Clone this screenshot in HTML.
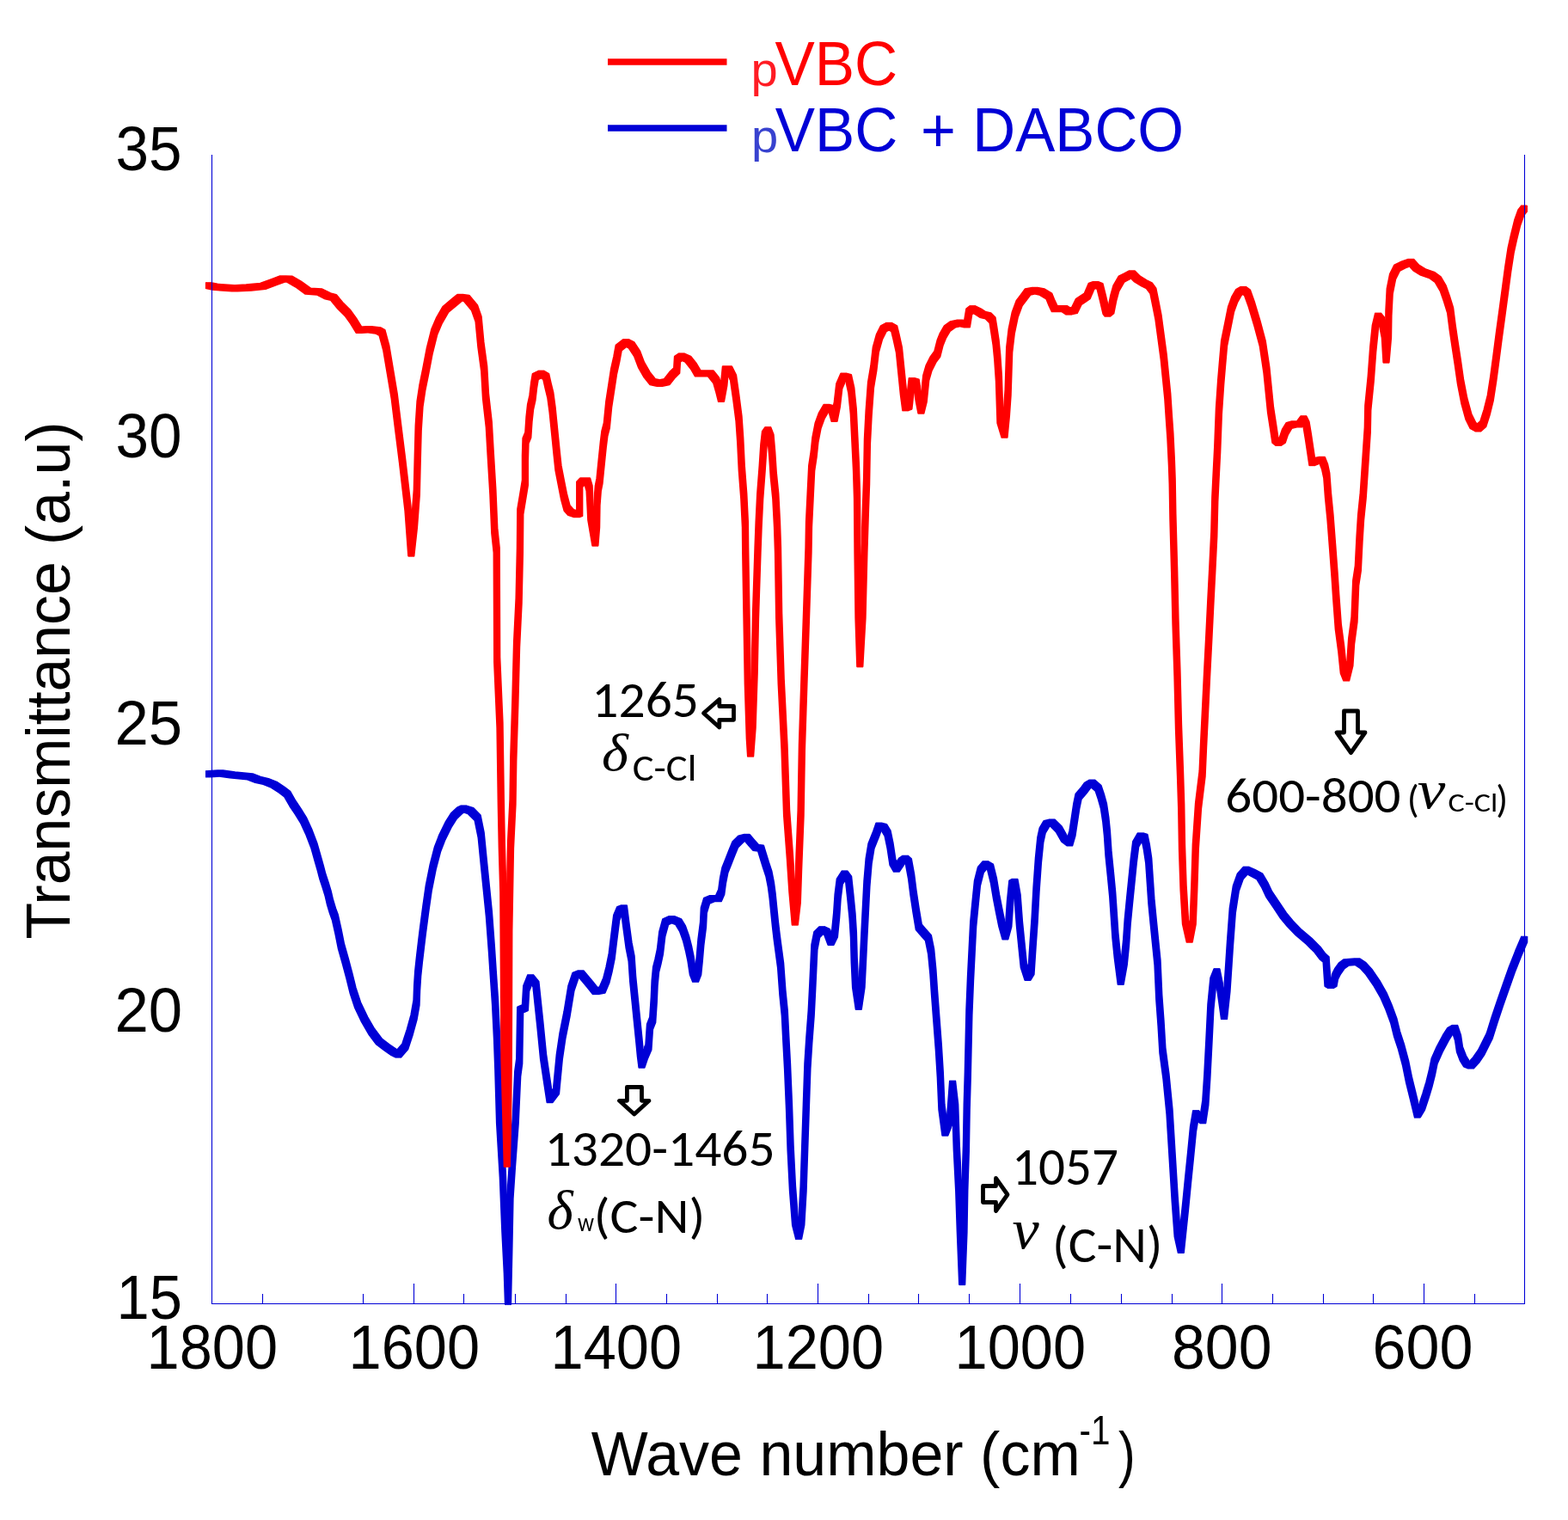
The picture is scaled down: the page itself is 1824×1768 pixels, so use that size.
<!DOCTYPE html>
<html><head><meta charset="utf-8"><title>FTIR spectra: pVBC and pVBC + DABCO</title><style>
html,body{margin:0;padding:0;background:#fff;width:1824px;height:1768px;overflow:hidden;}
svg{display:block;}
.ar{font-family:"Liberation Sans",Arial,sans-serif;}
.ca{font-family:"Carlito","Liberation Sans",sans-serif;}
.gr{font-family:"Liberation Serif","DejaVu Serif",serif;font-style:italic;}
</style></head><body>
<svg width="1824" height="1768" viewBox="0 0 1824 1768" xmlns="http://www.w3.org/2000/svg">
<defs>
<filter id="pen" filterUnits="userSpaceOnUse" x="0" y="0" width="1824" height="1768">
<feMorphology operator="dilate" radius="3"/>
</filter>
</defs>
<rect width="1824" height="1768" fill="#fff"/>
<g fill="none" stroke-linejoin="round" stroke-linecap="butt">
<path filter="url(#pen)" stroke="#0000D6" stroke-width="2.3" d="M242.0 900.4L256.3 899.3 270.5 901.4 290.9 903.4 300.0 906.9 309.3 909.0 318.7 912.7 328.0 918.9 334.2 923.6 340.4 934.5 346.7 943.8 352.9 953.8 359.1 967.2 365.3 983.3 370.0 999.9 372.8 1009.8 375.4 1019.7 378.7 1029.6 381.7 1039.5 384.0 1049.4 387.0 1059.3 389.8 1067.0 393.6 1083.9 397.0 1100.9 401.8 1117.9 406.3 1134.8 410.5 1151.8 416.0 1168.7 424.1 1185.7 432.2 1199.8 441.2 1211.7 449.7 1218.1 458.2 1224.0 463.3 1226.5 471.3 1217.2 476.8 1200.3 481.5 1183.3 484.5 1166.3 485.1 1149.4 486.2 1132.4 488.0 1115.4 490.0 1098.5 491.8 1083.6 495.3 1057.2 498.8 1032.7 503.7 1008.3 509.0 987.9 514.5 973.7 521.5 959.4 528.0 949.2 535.0 942.5 539.3 940.5 547.5 943.1 555.6 951.3 559.7 971.6 562.7 1002.2 565.8 1032.7 568.9 1063.3 571.9 1104.0 573.9 1134.5 576.0 1165.1 578.0 1205.8 579.3 1241.8 581.1 1304.0 584.8 1366.2 587.3 1428.4 589.8 1478.2 591.0 1514.0 592.3 1453.3 593.5 1391.1 596.0 1353.8 599.7 1304.0 602.2 1249.2 604.2 1234.3 605.2 1174.6 610.9 1172.1 612.2 1149.7 617.2 1137.2 623.4 1144.7 628.4 1192.0 632.1 1229.3 635.8 1254.2 639.6 1279.1 647.0 1269.2 650.8 1229.3 654.5 1204.4 659.5 1179.6 664.4 1149.7 669.4 1134.8 675.6 1132.3 681.9 1139.7 686.3 1145.1 692.7 1153.0 700.6 1151.5 705.3 1140.4 708.5 1127.7 711.7 1111.9 714.0 1092.9 717.2 1067.5 721.2 1058.0 725.9 1056.4 728.3 1075.4 731.5 1099.2 734.6 1115.0 736.2 1138.8 738.6 1162.5 741.0 1186.3 743.4 1210.1 744.9 1225.9 746.5 1238.6 749.7 1229.1 754.4 1218.0 756.0 1194.2 759.2 1186.3 760.8 1162.5 761.6 1143.5 763.1 1127.7 765.5 1118.2 767.9 1107.1 770.3 1086.5 774.2 1072.3 781.4 1069.1 789.3 1072.3 794.0 1080.2 798.0 1091.3 801.2 1103.9 803.5 1115.0 805.9 1130.9 809.1 1138.8 812.2 1130.9 813.8 1115.0 815.4 1096.0 818.0 1075.7 818.8 1058.8 822.2 1047.7 828.2 1045.2 835.8 1045.2 839.2 1037.6 840.9 1024.8 843.4 1012.1 846.8 1003.6 851.1 992.6 855.3 982.4 862.1 975.6 868.9 973.9 874.0 979.9 879.1 985.8 885.0 986.7 887.6 995.1 891.0 1006.2 894.4 1016.4 896.9 1029.1 898.6 1041.8 900.3 1058.8 902.0 1075.7 903.7 1090.0 904.9 1099.2 908.1 1122.9 910.4 1154.6 912.8 1178.4 914.4 1210.1 916.0 1240.0 918.0 1287.5 919.6 1335.0 922.0 1382.5 925.1 1422.1 929.1 1438.0 932.3 1422.1 934.6 1382.5 936.2 1335.0 937.8 1287.5 939.4 1240.0 941.3 1210.1 943.7 1178.4 945.3 1146.7 947.4 1101.8 950.3 1087.1 956.2 1081.2 962.1 1084.1 966.5 1095.9 970.9 1087.1 973.1 1065.0 974.6 1042.9 976.8 1025.3 982.6 1016.5 987.1 1022.4 989.3 1042.9 991.5 1065.0 992.9 1087.1 993.7 1116.5 995.1 1145.9 998.8 1170.9 1002.5 1145.9 1004.0 1116.5 1005.4 1087.1 1006.9 1057.6 1008.4 1028.2 1010.6 1001.8 1013.5 984.1 1019.4 969.4 1022.4 960.6 1028.2 962.1 1032.6 969.4 1035.6 984.1 1038.5 1003.2 1042.9 1010.6 1048.8 1001.8 1053.2 998.8 1056.9 1002.2 1060.1 1019.6 1062.5 1038.6 1065.6 1059.2 1068.8 1078.2 1072.8 1082.9 1079.9 1090.9 1083.1 1106.7 1085.4 1130.5 1087.0 1154.2 1089.4 1185.9 1091.8 1217.6 1093.8 1250.0 1095.4 1287.5 1099.4 1317.6 1104.9 1303.4 1108.1 1260.6 1111.2 1287.5 1112.8 1335.0 1115.2 1382.5 1116.8 1430.0 1119.2 1491.0 1121.5 1430.0 1122.3 1382.5 1123.9 1335.0 1124.7 1287.5 1125.8 1250.0 1127.4 1178.0 1129.0 1138.4 1130.6 1106.7 1132.2 1075.0 1134.5 1051.3 1136.9 1027.5 1140.9 1011.7 1146.4 1005.3 1152.0 1008.5 1155.9 1024.3 1159.1 1043.4 1162.2 1059.2 1165.4 1075.0 1169.4 1089.3 1173.3 1075.0 1174.9 1051.3 1177.3 1027.5 1180.5 1025.9 1183.6 1043.4 1186.0 1075.0 1188.4 1098.8 1190.8 1122.5 1195.5 1136.8 1199.5 1130.5 1201.5 1100.0 1203.6 1070.0 1205.5 1035.0 1207.9 1000.9 1210.3 977.1 1212.7 966.0 1217.4 958.1 1223.8 956.5 1231.7 964.4 1238.0 975.5 1244.3 980.3 1247.5 969.2 1249.9 953.4 1252.3 937.5 1254.6 926.4 1260.2 920.1 1264.9 913.8 1270.5 910.6 1277.6 916.9 1280.8 926.4 1283.9 937.5 1286.3 953.4 1287.9 969.2 1289.5 992.9 1291.9 1016.7 1294.2 1040.5 1295.8 1064.2 1297.4 1088.0 1299.8 1111.7 1303.7 1141.8 1307.7 1119.6 1310.1 1095.9 1311.7 1072.1 1314.0 1048.4 1316.4 1024.6 1318.8 1000.9 1321.2 981.9 1326.7 972.4 1331.5 973.9 1333.8 985.0 1336.2 1000.9 1337.8 1024.6 1339.4 1048.4 1341.7 1072.1 1344.1 1095.9 1346.5 1119.6 1348.3 1160.0 1350.5 1190.0 1352.4 1221.8 1356.5 1252.4 1360.5 1293.1 1363.6 1344.0 1366.7 1394.9 1369.7 1435.6 1373.8 1453.9 1378.9 1405.1 1381.9 1374.5 1385.0 1344.0 1388.0 1313.4 1391.1 1295.1 1399.2 1303.3 1402.3 1282.9 1404.3 1252.4 1406.4 1211.6 1408.4 1170.9 1411.4 1140.4 1415.5 1130.2 1419.6 1150.5 1424.0 1182.0 1427.5 1150.0 1429.5 1120.0 1430.9 1098.5 1433.8 1059.1 1437.8 1033.4 1442.7 1019.6 1449.6 1011.7 1456.5 1014.7 1465.4 1019.6 1471.3 1029.5 1476.2 1040.0 1485.1 1053.2 1493.0 1065.0 1500.9 1074.5 1510.8 1084.7 1522.6 1094.6 1532.5 1104.5 1538.4 1112.4 1542.6 1116.0 1543.5 1130.0 1544.5 1144.0 1548.0 1146.0 1551.5 1144.0 1553.0 1136.0 1556.0 1130.0 1560.7 1123.4 1566.0 1119.5 1578.8 1118.5 1585.6 1123.0 1592.4 1130.5 1601.6 1143.9 1609.5 1157.8 1615.5 1171.6 1621.3 1187.4 1625.2 1203.1 1629.8 1217.0 1635.1 1236.7 1639.1 1256.4 1644.0 1276.2 1648.9 1296.5 1654.0 1288.0 1658.3 1275.0 1662.4 1261.5 1665.8 1247.9 1668.6 1234.3 1674.6 1220.7 1681.8 1207.2 1687.0 1199.0 1692.3 1196.0 1696.0 1207.2 1698.0 1220.7 1702.0 1231.0 1706.0 1237.5 1711.0 1239.5 1717.0 1233.0 1723.1 1224.2 1732.7 1205.0 1738.7 1185.8 1745.2 1166.5 1751.9 1147.3 1758.7 1128.1 1766.3 1108.8 1773.5 1092.0"/>
<path filter="url(#pen)" stroke="#FF0000" stroke-width="2.3" d="M242.0 332.0L249.9 333.7 272.9 335.4 289.3 334.5 305.8 332.9 319.0 328.0 328.8 324.3 337.0 324.7 346.9 330.4 358.4 338.7 371.6 339.5 381.4 344.4 388.0 346.0 396.2 355.9 404.5 364.1 411.0 373.2 417.6 383.9 429.1 383.1 440.0 384.5 444.5 387.0 449.3 404.7 454.0 432.6 458.7 460.6 463.3 498.0 468.0 535.3 471.7 567.0 474.5 591.3 478.3 643.5 482.0 610.0 484.8 572.6 485.7 535.3 486.7 498.0 488.5 470.0 491.3 451.3 495.1 432.6 499.7 408.4 505.3 386.0 510.9 372.9 518.4 359.9 529.6 350.5 535.2 345.9 542.6 346.8 552.0 358.0 556.6 371.1 559.4 400.9 563.2 428.9 565.0 460.6 568.8 494.2 570.6 526.0 573.4 572.6 575.3 617.4 577.7 640.0 578.2 767.3 581.5 843.6 582.8 932.7 583.8 983.6 585.3 1034.5 586.5 1229.3 588.5 1304.0 589.8 1353.8 591.0 1304.0 591.8 1229.3 592.3 1080.0 594.0 983.6 596.5 932.7 597.3 881.8 599.3 818.2 601.1 749.4 603.6 698.5 604.9 640.0 605.3 595.3 608.1 578.4 610.9 561.4 610.9 533.1 611.5 512.8 614.3 506.0 615.5 487.9 617.1 473.2 619.4 463.0 621.1 448.3 622.8 438.1 629.6 434.7 635.2 438.1 637.5 448.3 640.3 459.6 642.6 476.6 644.3 493.5 646.0 510.5 647.7 527.5 649.5 544.4 652.8 561.4 656.2 578.4 659.6 591.0 664.1 596.0 670.9 598.2 674.2 597.0 674.2 563.6 678.0 559.4 683.1 559.4 685.6 567.9 686.5 584.8 687.3 601.8 692.4 631.5 694.1 610.3 694.5 584.8 695.8 567.9 697.5 559.4 699.2 542.4 700.5 529.7 701.8 517.0 703.4 504.2 705.8 495.0 708.2 470.5 711.5 449.0 714.0 432.6 717.3 417.8 719.7 404.7 728.0 398.1 734.5 401.4 741.1 411.3 746.0 424.4 752.6 435.9 759.2 444.1 767.4 445.8 775.7 444.1 782.2 435.9 787.2 431.0 788.0 417.8 792.9 414.5 800.3 417.8 806.9 426.0 811.8 434.3 818.4 434.3 826.6 434.3 833.2 442.5 836.5 454.0 839.0 463.9 842.3 445.8 843.9 429.3 848.0 429.3 853.0 439.2 856.3 462.2 859.5 486.9 861.2 511.6 862.8 544.5 865.3 577.4 866.9 610.3 867.2 640.0 868.5 716.4 869.8 792.7 871.8 856.3 873.1 876.7 875.6 843.6 877.7 780.0 879.0 716.4 881.5 640.0 882.6 610.3 884.2 577.4 886.7 544.5 888.3 519.8 890.0 505.0 893.3 500.1 896.5 508.3 898.2 528.0 899.8 552.7 902.3 577.4 904.0 610.3 905.0 640.0 906.2 716.4 908.7 792.7 912.5 869.0 915.1 945.4 918.9 996.3 921.4 1034.5 924.8 1072.7 927.8 1047.2 929.1 1009.0 931.6 945.4 932.9 869.0 935.4 792.7 938.0 716.4 940.5 640.0 941.0 610.3 942.6 577.4 944.2 544.5 946.7 528.0 948.4 511.6 951.6 495.1 955.8 483.6 961.5 473.8 967.3 475.4 970.6 486.9 973.8 470.5 976.3 449.1 981.3 437.6 987.0 439.2 990.3 454.0 992.8 478.7 994.4 511.6 996.0 544.5 997.0 577.0 997.5 640.0 998.5 716.0 1000.3 772.3 1003.5 716.0 1005.4 640.0 1007.0 590.0 1008.1 559.9 1008.9 513.8 1010.6 480.9 1013.0 448.0 1016.3 428.3 1018.8 406.9 1022.9 392.1 1027.8 382.2 1034.4 378.9 1040.2 382.2 1042.6 392.1 1045.9 406.9 1048.4 431.6 1050.9 456.3 1053.3 474.3 1057.4 472.7 1060.7 443.1 1065.7 444.7 1068.9 464.5 1071.4 477.6 1074.7 464.5 1077.2 439.8 1080.5 428.3 1085.4 418.4 1090.3 411.8 1093.6 398.7 1096.9 390.5 1101.8 382.2 1108.4 377.3 1116.6 375.7 1124.9 377.3 1127.3 362.5 1131.4 359.2 1138.0 362.5 1143.0 365.8 1149.5 367.4 1154.5 372.4 1156.1 382.2 1158.6 398.7 1160.2 415.1 1161.9 439.8 1162.7 464.5 1163.5 489.1 1168.5 505.6 1170.9 480.9 1172.6 456.3 1173.4 431.6 1174.2 406.9 1176.7 385.5 1180.8 365.8 1185.7 352.6 1190.7 346.1 1195.6 339.5 1203.8 337.8 1212.0 339.5 1220.3 344.4 1223.6 352.6 1226.8 359.2 1233.4 359.2 1238.4 359.2 1243.3 362.5 1249.9 360.9 1254.8 351.0 1259.7 347.7 1264.7 344.4 1269.6 332.9 1274.5 331.2 1279.5 333.0 1283.0 347.0 1286.5 362.0 1288.4 364.5 1292.3 361.4 1295.4 346.1 1298.4 335.3 1304.6 324.6 1310.7 321.5 1316.8 318.4 1323.0 324.6 1330.7 329.2 1336.8 332.2 1341.4 338.4 1344.5 353.7 1347.5 369.1 1350.6 392.1 1353.7 415.1 1356.0 438.2 1358.3 461.2 1359.8 484.2 1361.4 507.2 1362.9 538.0 1363.7 560.0 1364.4 601.1 1366.1 662.2 1367.5 723.3 1369.5 784.3 1371.0 845.4 1373.0 900.0 1374.2 937.5 1375.0 985.0 1376.6 1032.5 1379.0 1072.1 1383.7 1092.7 1387.7 1072.1 1389.3 1032.5 1390.8 985.0 1394.0 937.5 1398.6 900.0 1400.1 865.8 1402.1 825.1 1404.1 784.3 1406.2 743.6 1408.2 702.9 1410.3 662.2 1412.3 621.4 1413.3 580.7 1414.3 560.0 1416.2 522.6 1417.9 478.4 1420.2 444.4 1422.1 421.8 1424.1 399.2 1428.7 376.6 1432.1 359.6 1436.2 348.3 1441.0 340.0 1446.2 337.0 1451.0 340.5 1455.8 353.9 1462.6 376.6 1468.8 399.8 1471.1 415.1 1473.4 430.5 1475.7 453.5 1478.0 476.5 1481.1 496.5 1483.4 511.8 1487.2 514.9 1491.8 511.8 1494.9 502.6 1499.5 495.0 1505.7 493.4 1511.8 493.4 1516.4 487.3 1519.5 493.4 1521.8 507.2 1524.1 522.6 1526.4 538.0 1530.2 536.4 1537.9 534.9 1541.0 542.6 1543.3 553.3 1545.0 576.4 1547.5 601.8 1550.1 635.8 1552.6 669.7 1554.3 695.1 1556.8 729.1 1560.2 754.5 1562.8 780.0 1566.2 788.5 1570.4 771.5 1572.1 746.0 1575.5 720.6 1577.2 678.2 1579.8 661.2 1581.5 627.3 1583.1 601.8 1585.7 576.4 1587.4 550.9 1589.1 525.5 1590.8 500.0 1591.3 474.5 1594.7 440.6 1597.2 406.7 1599.8 381.2 1603.1 367.6 1607.4 372.7 1610.8 389.7 1612.5 418.5 1615.0 389.7 1615.4 364.2 1616.7 338.8 1620.1 321.8 1625.2 311.6 1632.0 308.2 1641.3 304.8 1647.3 311.6 1655.8 316.7 1665.9 320.1 1672.7 325.2 1678.7 335.4 1682.9 347.3 1687.1 360.8 1689.7 381.2 1692.2 398.2 1695.6 420.2 1699.0 444.0 1703.3 466.1 1708.4 484.7 1713.5 494.9 1719.4 498.3 1725.3 493.2 1729.6 479.6 1733.8 462.7 1737.2 440.6 1740.6 415.1 1743.9 389.7 1747.4 364.2 1750.8 338.8 1754.2 313.3 1757.6 291.3 1761.0 276.0 1765.2 259.0 1769.4 247.2 1773.5 242.0"/>
</g>
<g stroke="#0000D6" stroke-width="1.1" fill="none">
<line x1="246.5" y1="180" x2="246.5" y2="1517"/>
<line x1="1773.5" y1="180" x2="1773.5" y2="1517"/>
<line x1="246" y1="1516.5" x2="1774" y2="1516.5"/>
<line x1="305.5" y1="1516.5" x2="305.5" y2="1505.0"/>
<line x1="422.5" y1="1516.5" x2="422.5" y2="1505.0"/>
<line x1="481.5" y1="1516.5" x2="481.5" y2="1493.0"/>
<line x1="539.5" y1="1516.5" x2="539.5" y2="1505.0"/>
<line x1="599.5" y1="1516.5" x2="599.5" y2="1505.0"/>
<line x1="658.5" y1="1516.5" x2="658.5" y2="1505.0"/>
<line x1="716.5" y1="1516.5" x2="716.5" y2="1493.0"/>
<line x1="775.5" y1="1516.5" x2="775.5" y2="1505.0"/>
<line x1="834.5" y1="1516.5" x2="834.5" y2="1505.0"/>
<line x1="892.5" y1="1516.5" x2="892.5" y2="1505.0"/>
<line x1="951.5" y1="1516.5" x2="951.5" y2="1493.0"/>
<line x1="1010.5" y1="1516.5" x2="1010.5" y2="1505.0"/>
<line x1="1068.5" y1="1516.5" x2="1068.5" y2="1505.0"/>
<line x1="1127.5" y1="1516.5" x2="1127.5" y2="1505.0"/>
<line x1="1186.5" y1="1516.5" x2="1186.5" y2="1493.0"/>
<line x1="1245.5" y1="1516.5" x2="1245.5" y2="1505.0"/>
<line x1="1304.5" y1="1516.5" x2="1304.5" y2="1505.0"/>
<line x1="1363.5" y1="1516.5" x2="1363.5" y2="1505.0"/>
<line x1="1421.5" y1="1516.5" x2="1421.5" y2="1493.0"/>
<line x1="1480.5" y1="1516.5" x2="1480.5" y2="1505.0"/>
<line x1="1539.5" y1="1516.5" x2="1539.5" y2="1505.0"/>
<line x1="1597.5" y1="1516.5" x2="1597.5" y2="1505.0"/>
<line x1="1656.5" y1="1516.5" x2="1656.5" y2="1493.0"/>
<line x1="1715.5" y1="1516.5" x2="1715.5" y2="1505.0"/>
</g>
<line x1="707" y1="72" x2="845.5" y2="72" stroke="#FF0000" stroke-width="7.7"/>
<line x1="707" y1="149" x2="845.5" y2="149" stroke="#0000D6" stroke-width="7.7"/>
<g fill="#000">
<text class="ar" x="134.63" y="0" transform="translate(0 197.80) scale(1 1.040)" font-size="70.00" textLength="77.00" lengthAdjust="spacingAndGlyphs">35</text>
<text class="ar" x="134.63" y="0" transform="translate(0 532.00) scale(1 1.040)" font-size="70.00" textLength="77.00" lengthAdjust="spacingAndGlyphs">30</text>
<text class="ar" x="133.47" y="0" transform="translate(0 866.10) scale(1 1.040)" font-size="70.00" textLength="78.63" lengthAdjust="spacingAndGlyphs">25</text>
<text class="ar" x="133.47" y="0" transform="translate(0 1200.10) scale(1 1.040)" font-size="70.00" textLength="78.63" lengthAdjust="spacingAndGlyphs">20</text>
<text class="ar" x="135.61" y="0" transform="translate(0 1534.20) scale(1 1.040)" font-size="70.00" textLength="76.40" lengthAdjust="spacingAndGlyphs">15</text>
<text class="ar" x="170.51" y="0" transform="translate(0 1592.20) scale(1 1.040)" font-size="70.00" textLength="152.55" lengthAdjust="spacingAndGlyphs">1800</text>
<text class="ar" x="405.53" y="0" transform="translate(0 1592.20) scale(1 1.040)" font-size="70.00" textLength="152.55" lengthAdjust="spacingAndGlyphs">1600</text>
<text class="ar" x="640.55" y="0" transform="translate(0 1592.20) scale(1 1.040)" font-size="70.00" textLength="152.55" lengthAdjust="spacingAndGlyphs">1400</text>
<text class="ar" x="875.56" y="0" transform="translate(0 1592.20) scale(1 1.040)" font-size="70.00" textLength="152.55" lengthAdjust="spacingAndGlyphs">1200</text>
<text class="ar" x="1110.58" y="0" transform="translate(0 1592.20) scale(1 1.040)" font-size="70.00" textLength="152.55" lengthAdjust="spacingAndGlyphs">1000</text>
<text class="ar" x="1363.01" y="0" transform="translate(0 1592.00) scale(1 1.040)" font-size="70.00" textLength="116.49" lengthAdjust="spacingAndGlyphs">800</text>
<text class="ar" x="1596.50" y="0" transform="translate(0 1592.00) scale(1 1.040)" font-size="70.00" textLength="116.91" lengthAdjust="spacingAndGlyphs">600</text>
<text class="ar" x="687.70" y="0" transform="translate(0 1716.20) scale(1 1.040)" font-size="70.00" textLength="569.00" lengthAdjust="spacingAndGlyphs">Wave number (cm</text>
<text class="ar" x="1255.59" y="0" transform="translate(0 1680.00) scale(1 1.040)" font-size="46.00" textLength="35.90" lengthAdjust="spacingAndGlyphs">-1</text>
<text class="ar" x="1301.01" y="0" transform="translate(0 1716.20) scale(1 1.040)" font-size="70.00" textLength="19.73" lengthAdjust="spacingAndGlyphs">)</text>
<text class="ar" x="873.57" y="99.98" font-size="56.27" textLength="31.23" lengthAdjust="spacingAndGlyphs" fill="#FF1C24">p</text>
<text class="ar" x="901.51" y="0" transform="translate(0 98.70) scale(1 1.040)" font-size="70.00" textLength="142.60" lengthAdjust="spacingAndGlyphs" fill="#FF0000">VBC</text>
<text class="ar" x="873.97" y="177.09" font-size="53.87" textLength="31.23" lengthAdjust="spacingAndGlyphs" fill="#3842CF">p</text>
<text class="ar" x="901.71" y="0" transform="translate(0 176.00) scale(1 1.040)" font-size="70.00" textLength="142.50" lengthAdjust="spacingAndGlyphs" fill="#0000D6">VBC</text>
<text class="ar" x="1071.00" y="0" transform="translate(0 176.00) scale(1 1.040)" font-size="70.00" textLength="40.88" lengthAdjust="spacingAndGlyphs" fill="#0000D6">+</text>
<text class="ar" x="1131.37" y="0" transform="translate(0 176.00) scale(1 1.040)" font-size="70.00" textLength="245.72" lengthAdjust="spacingAndGlyphs" fill="#0000D6">DABCO</text>
<text class="ca" x="688.37" y="833.80" font-size="58.68" textLength="124.55" lengthAdjust="spacingAndGlyphs">1265</text>
<text class="ca" x="1425.35" y="945.00" font-size="57.54" textLength="204.11" lengthAdjust="spacingAndGlyphs">600-800</text>
<text class="ca" x="633.67" y="1355.70" font-size="58.82" textLength="267.97" lengthAdjust="spacingAndGlyphs">1320-1465</text>
<text class="ca" x="1177.00" y="1378.40" font-size="60.77" textLength="123.88" lengthAdjust="spacingAndGlyphs">1057</text>
<text class="ca" x="735.80" y="907.90" font-size="43.86" textLength="74.56" lengthAdjust="spacingAndGlyphs">C-Cl</text>
<text class="ca" x="1684.52" y="944.40" font-size="30.57" textLength="57.79" lengthAdjust="spacingAndGlyphs">C-Cl</text>
<text class="ca" x="671.93" y="1432.40" font-size="30.42" textLength="19.06" lengthAdjust="spacingAndGlyphs">w</text>
<text class="ca" x="690.87" y="1434.22" font-size="58.41" textLength="129.35" lengthAdjust="spacingAndGlyphs">(C-N)</text>
<text class="ca" x="1224.00" y="1468.45" font-size="60.34" textLength="128.49" lengthAdjust="spacingAndGlyphs">(C-N)</text>
<text class="ca" x="1636.77" y="944.68" font-size="44.43" textLength="13.98" lengthAdjust="spacingAndGlyphs">(</text>
<text class="ca" x="1740.19" y="944.68" font-size="44.43" textLength="13.98" lengthAdjust="spacingAndGlyphs">)</text>
<text class="gr" x="699.91" y="896.18" font-size="62.11" textLength="30.89" lengthAdjust="spacingAndGlyphs">&#948;</text>
<text class="gr" x="636.45" y="1429.47" font-size="62.68" textLength="30.16" lengthAdjust="spacingAndGlyphs">&#948;</text>
<text class="gr" x="1648.73" y="940.06" font-size="63.62" textLength="32.55" lengthAdjust="spacingAndGlyphs">&#957;</text>
<text class="gr" x="1177.49" y="1452.24" font-size="66.38" textLength="31.28" lengthAdjust="spacingAndGlyphs">&#957;</text>
<text class="ar" x="0" y="0" font-size="70" textLength="601.84" lengthAdjust="spacingAndGlyphs" transform="translate(81.1 1092.39) rotate(-90) scale(1 1.04)">Transmittance (a.u)</text>
</g>
<g fill="#fff" stroke="#000" stroke-width="4.8" stroke-linejoin="round">
<path d="M818.5 829.5 L836.8 813.5 L836.8 821.5 L853.5 821.5 L853.5 837.3 L836.8 837.3 L836.8 846 Z"/>
<path d="M1563.5 827 L1579.5 827 L1579.5 852 L1588 852 L1571.5 875.5 L1555 852 L1563.5 852 Z"/>
<path d="M729.4 1264.5 L746.5 1264.5 L746.5 1280.3 L755 1280.3 L737.8 1296 L720.5 1280.3 L729.4 1280.3 Z"/>
<path d="M1143.5 1379.5 L1158.5 1379.5 L1158.5 1370.5 L1172 1389.5 L1158.5 1408.5 L1158.5 1398.5 L1143.5 1398.5 Z"/>
</g>
</svg>
</body></html>
